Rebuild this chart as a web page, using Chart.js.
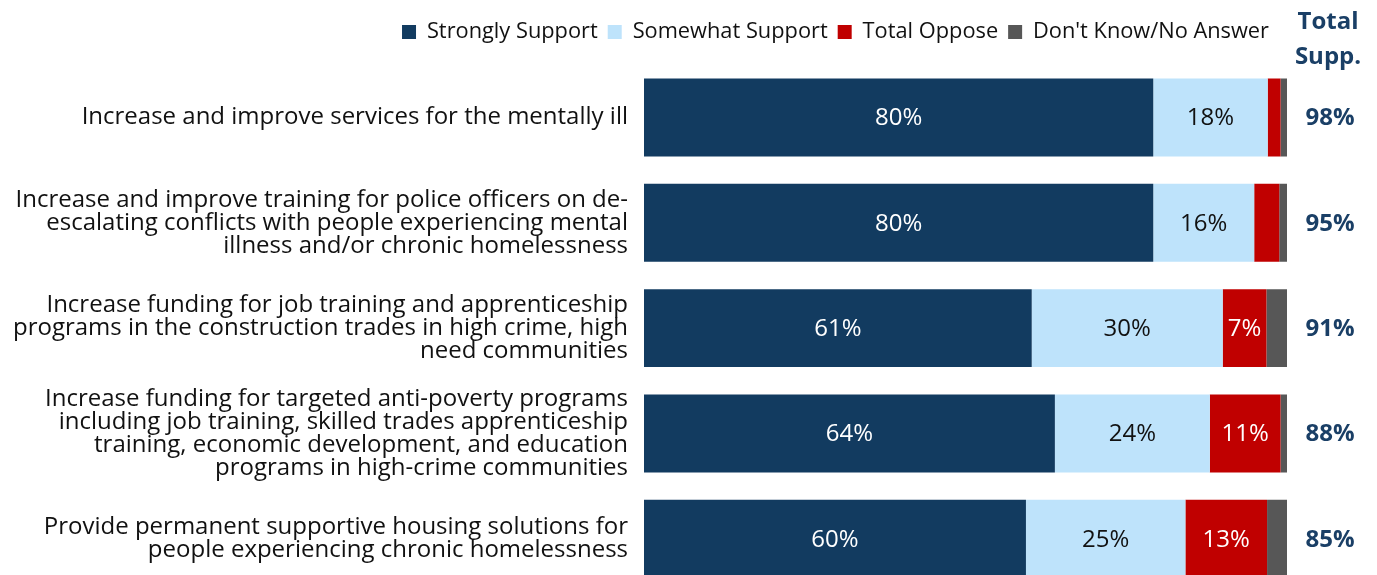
<!DOCTYPE html>
<html>
<head>
<meta charset="utf-8">
<script src="https://cdn.jsdelivr.net/npm/chart.js@4.4.1/dist/chart.umd.min.js"></script>
<style>
  body { margin: 0; background: #fff; overflow: hidden; }
  #wrap { width: 1377px; height: 575px; overflow: hidden; }
</style>
</head>
<body>
<div id="wrap"><canvas id="grafico" width="1377" height="611"></canvas></div>
<script>
const categories = [
    ['Increase and improve services for the mentally ill'],
    ['Increase and improve training for police officers on de-', 'escalating conflicts with people experiencing mental', 'illness and/or chronic homelessness'],
    ['Increase funding for job training and apprenticeship', 'programs in the construction trades in high crime, high', 'need communities'],
    ['Increase funding for targeted anti-poverty programs', 'including job training, skilled trades apprenticeship', 'training, economic development, and education', 'programs in high-crime communities'],
    ['Provide permanent supportive housing solutions for', 'people experiencing chronic homelessness']
];

// segment sizes
const stronglySupport = [79.2, 79.2, 60.3, 63.9, 59.4];
const somewhatSupport = [17.8, 15.7, 29.7, 24.1, 24.8];
const totalOppose = [2.0, 3.9, 6.8, 11.0, 12.7];
const dontKnow = [1.0, 1.2, 3.2, 1.0, 3.1];

// printed labels
const stronglyLabels = ['80%', '80%', '61%', '64%', '60%'];
const somewhatLabels = ['18%', '16%', '30%', '24%', '25%'];
const opposeLabels = ['', '', '7%', '11%', '13%'];
const totalSupport = ['98%', '95%', '91%', '88%', '85%'];

const FONT = 'Open Sans';
const NAVY = '#1a3f66';

const segLabels = [stronglyLabels, somewhatLabels, opposeLabels, null];
const segColors = ['#ffffff', '#111111', '#ffffff', '#ffffff'];

// extra room under the legend, and nudge it a bit
const legendGap = {
    id: 'legendGap',
    beforeInit(chart) {
        const fit = chart.legend.fit;
        chart.legend.fit = function () {
            fit.call(this);
            this.height += 15;
        };
    },
    afterLayout(chart) {
        const lg = chart.legend;
        lg.left -= 8;
        lg.right -= 8;
        lg.top += 3;
        lg.bottom += 3;
    }
};

const barLabels = {
    id: 'barLabels',
    afterDatasetsDraw(chart) {
        const c = chart.ctx;
        c.save();
        c.font = '24px "' + FONT + '"';
        c.textAlign = 'center';
        c.textBaseline = 'middle';
        chart.data.datasets.forEach((ds, di) => {
            const labels = segLabels[di];
            if (!labels) return;
            chart.getDatasetMeta(di).data.forEach((bar, i) => {
                if (!labels[i]) return;
                c.fillStyle = segColors[di];
                c.fillText(labels[i], (bar.x + bar.base) / 2, bar.y + 1);
            });
        });

        const y = chart.scales.y;
        const x = chart.chartArea.right + 43;
        c.fillStyle = NAVY;
        c.font = 'bold 24px "' + FONT + '"';
        totalSupport.forEach((t, i) => {
            c.fillText(t, x, y.getPixelForValue(i) + 1);
        });
        c.fillText('Total', x - 2, 22);
        c.fillText('Supp.', x - 2, 57);
        c.restore();
    }
};

const ctx = document.getElementById('grafico').getContext('2d');
const grafico = new Chart(ctx, {
    type: 'bar',

    data: {
        labels: categories,

        datasets: [
            { label: 'Strongly Support', data: stronglySupport, backgroundColor: '#123b60' },
            { label: 'Somewhat Support', data: somewhatSupport, backgroundColor: '#bee3fb' },
            { label: 'Total Oppose', data: totalOppose, backgroundColor: '#c00000' },
            { label: "Don't Know/No Answer", data: dontKnow, backgroundColor: '#575757' }
        ]
    },

    options: {
        indexAxis: 'y',
        responsive: false,
        animation: false,
        layout: {
            padding: { top: 8, right: 90, left: 0 }
        },
        datasets: {
            bar: { barPercentage: 0.74, categoryPercentage: 1 }
        },
        scales: {
            x: {
                stacked: true,
                min: 0,
                max: 100,
                display: false
            },
            y: {
                stacked: true,
                grid: { display: false },
                border: { display: false },
                afterFit(scale) {
                    scale.width = 644;
                },
                ticks: {
                    color: '#111',
                    padding: 8,
                    font: { family: FONT, size: 24, lineHeight: 0.96 }
                }
            }
        },
        plugins: {
            legend: {
                position: 'top',
                align: 'end',
                labels: {
                    color: '#111',
                    boxWidth: 14,
                    boxHeight: 14,
                    padding: 10,
                    font: { family: FONT, size: 21.8 }
                }
            },
            tooltip: { enabled: false }
        }
    },

    plugins: [legendGap, barLabels]
});
</script>
</body>
</html>
